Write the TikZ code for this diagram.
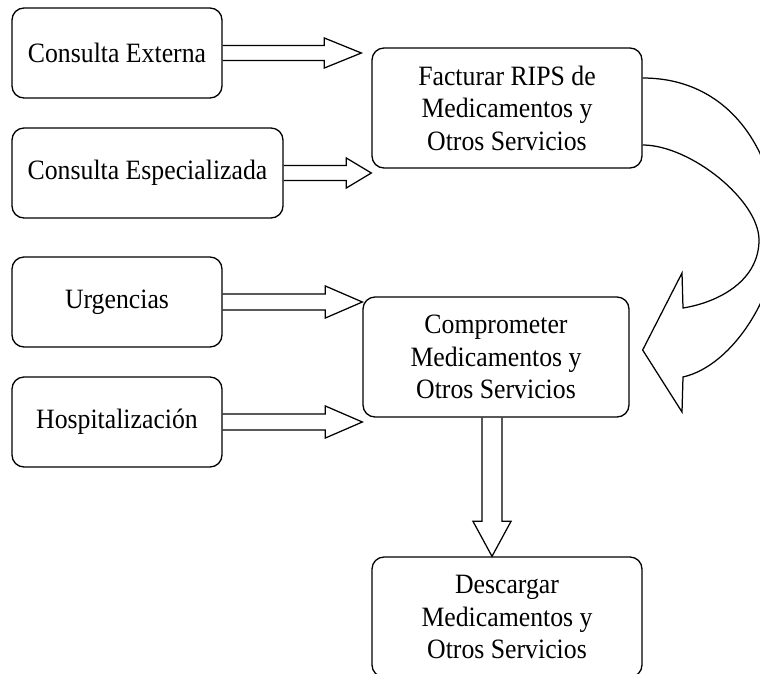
\documentclass[tikz,border=0pt]{standalone}
\usepackage{fontspec}
\setmainfont{Liberation Serif}[FakeStretch=0.92]
\usetikzlibrary{calc}

\tikzset{
  box/.style={draw, line width=1.3pt, rounded corners=12pt, align=center,
    inner sep=0pt, font=\fontsize{28}{32.5}\selectfont},
  smallbox/.style={box, minimum height=90pt},
  bigbox/.style={box, minimum width=270pt, minimum height=120pt},
  blk/.style={draw, line width=1.25pt, line join=miter},
}

% hollow block arrow pointing right: start, tip, shaft half width, head half width, head length
\newcommand\blockright[5]{%
  \draw[blk] let \p1=#1, \p2=#2 in
    (\x1,\y1+#3) -- (\x2-#5,\y1+#3) -- (\x2-#5,\y1+#4) -- (\x2,\y1)
    -- (\x2-#5,\y1-#4) -- (\x2-#5,\y1-#3) -- (\x1,\y1-#3);
}
% hollow block arrow pointing down: start, tip, shaft half width, head half width, head length
\newcommand\blockdown[5]{%
  \draw[blk] let \p1=#1, \p2=#2 in
    (\x1-#3,\y1) -- (\x1-#3,\y2+#5) -- (\x1-#4,\y2+#5) -- (\x1,\y2)
    -- (\x1+#4,\y2+#5) -- (\x1+#3,\y2+#5) -- (\x1+#3,\y1);
}

\begin{document}
\begin{tikzpicture}[x=1pt,y=-1pt]
\useasboundingbox (0,0) rectangle (760,673);

% sources
\node[smallbox, minimum width=210pt] (ce)   at (117,53)   {Consulta Externa};
\node[smallbox, minimum width=271pt] (cesp) at (147.5,173) {Consulta Especializada};
\node[smallbox, minimum width=210pt] (urg)  at (117,302)  {Urgencias};
\node[smallbox, minimum width=210pt] (hosp) at (117,422)  {Hospitalización};

% processes
\node[bigbox] (fact) at (507,108) {Facturar RIPS de\\Medicamentos y\\Otros Servicios};
\node[bigbox, minimum width=266pt] (comp) at (496,357) {Comprometer\\Medicamentos y\\Otros Servicios};
\node[bigbox] (desc) at (507,617) {Descargar\\Medicamentos y\\Otros Servicios};

% straight block arrows
\blockright{(ce.east)}{($(fact.west)+(-10,0)$)}{7.5pt}{15pt}{37pt}
\blockright{(cesp.east)}{(fact.west)}{7.5pt}{15pt}{25pt}
\blockright{(urg.east)}{(comp.west)}{8pt}{16pt}{37pt}
\blockright{(hosp.east)}{(comp.west)}{8pt}{16pt}{37pt}
\blockdown{($(comp.south)+(-4,0)$)}{(desc.north)}{10pt}{19pt}{35pt}

% curved block arrow from Facturar back to Comprometer
\coordinate (otop) at ($(fact.east)+(0,-30)$);
\coordinate (itop) at ($(fact.east)+(0,37)$);
\coordinate (ctip) at ($(comp.east)+(13,-7)$);
\draw[blk] (otop) .. controls (735,78) and (778,160) .. (778,235)
  .. controls (778,290) and (735,365) .. (683,377)
  -- (682,412) -- (ctip) -- (682,273) -- (683,308)
  .. controls (720,302) and (759,280) .. (759,240)
  .. controls (759,200) and (690,145) .. (itop);
\end{tikzpicture}
\end{document}
